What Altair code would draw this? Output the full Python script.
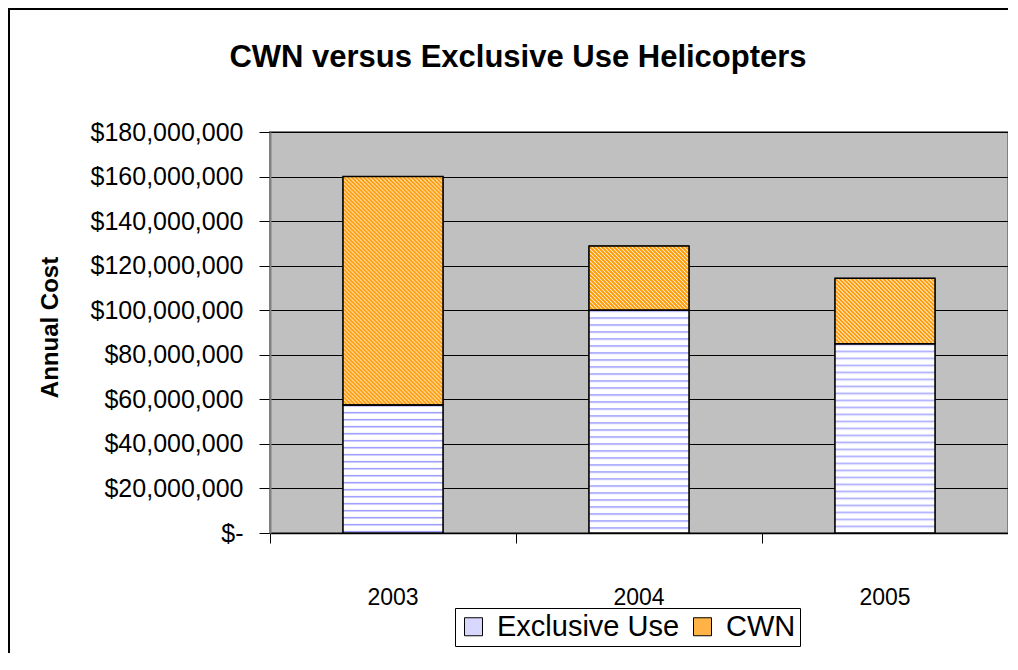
import base64
import altair as alt
import pandas as pd

# ---- data ----
years = ["2003", "2004", "2005"]
exclusive_use = [57_500_000, 100_000_000, 85_000_000]
cwn = [102_500_000, 28_800_000, 29_300_000]
series_names = ["Exclusive Use", "CWN"]
y_ticks = [0, 20_000_000, 40_000_000, 60_000_000, 80_000_000, 100_000_000,
           120_000_000, 140_000_000, 160_000_000, 180_000_000]

W, H = 738, 401
YMAX = 180_000_000
BAR_W = 100
FONT = "Liberation Sans"

rows = []
for i, yr in enumerate(years):
    rows.append({"year": yr, "series": series_names[0], "order": 0, "value": exclusive_use[i]})
    rows.append({"year": yr, "series": series_names[1], "order": 1, "value": cwn[i]})
df = pd.DataFrame(rows)


def px(v):
    return v / YMAX * H


def pattern_url(kind, w, h):
    if kind == "h":
        pat = ("<pattern id='p' width='8' height='7' patternUnits='userSpaceOnUse'>"
               "<rect width='8' height='7' fill='#ffffff'/>"
               "<rect y='0' width='8' height='1' fill='#9C9CFF'/>"
               "<rect y='1' width='8' height='1' fill='#C8C8FF'/>"
               "</pattern>")
    else:
        pat = ("<pattern id='p' width='4' height='4' patternUnits='userSpaceOnUse'>"
               "<rect width='4' height='4' fill='#ffffff'/>"
               "<path d='M-1,-1 L5,5 M-3,1 L1,5 M3,-1 L5,1' stroke='#FF9900' stroke-width='1.95'/>"
               "</pattern>")
    svg = (f"<svg xmlns='http://www.w3.org/2000/svg' width='{w}' height='{h:.2f}' "
           f"viewBox='0 0 {w} {h:.2f}' preserveAspectRatio='none'>"
           f"<defs>{pat}</defs><rect width='{w}' height='{h:.2f}' fill='url(#p)'/></svg>")
    return "data:image/svg+xml;base64," + base64.b64encode(svg.encode()).decode()


x_enc = alt.X(
    "year:N",
    sort=years,
    scale=alt.Scale(paddingInner=0, paddingOuter=0),
    axis=alt.Axis(
        title=None, labelAngle=0, bandPosition=0,
        tickSize=10, tickColor="black", tickWidth=1,
        domainColor="black", domainWidth=1.5,
        labelFontSize=23, labelFont=FONT, labelColor="black", labelPadding=43,
        grid=False,
    ),
)
y_enc = alt.Y(
    "v0:Q",
    scale=alt.Scale(domain=[0, YMAX], nice=False),
    axis=alt.Axis(
        values=y_ticks,
        labelExpr="datum.value == 0 ? '$-\u00a0' : '$' + format(datum.value, ',')",
        title="Annual Cost", titleFontSize=24, titleFont=FONT, titleFontWeight="bold",
        titleColor="black", titlePadding=28, titleY=195,
        labelFontSize=25, labelFont=FONT, labelColor="black", labelPadding=16,
        tickSize=11, tickColor="black", tickWidth=1,
        domainColor="#808080", domainWidth=2,
        grid=True, gridColor="black", gridWidth=1,
    ),
)

base = alt.Chart(df).transform_stack(
    stack="value", groupby=["year"], as_=["v0", "v1"],
    sort=[alt.SortField("order", order="ascending")],
)

legend_bars = base.mark_bar(size=BAR_W, stroke="black", strokeWidth=1).encode(
    x=x_enc, y=y_enc, y2="v1",
    color=alt.Color(
        "series:N",
        scale=alt.Scale(domain=series_names, range=["#D8D8FF", "#FFB347"]),
        legend=alt.Legend(
            title=None, orient="none", direction="horizontal",
            legendX=185, legendY=476,
            labelFontSize=29, labelFont=FONT, labelColor="black", labelOffset=9,
            labelLimit=500,
            symbolType="square", symbolSize=324,
            symbolStrokeColor="black", symbolStrokeWidth=1,
            columnPadding=8, padding=4,
            strokeColor="black", fillColor="white",
        ),
    ),
)

# patterned fills: one image per bar segment, placed through the same scales
pattern_layers = []
for i, yr in enumerate(years):
    for sname, vals, kind in ((series_names[0], exclusive_use, "h"), (series_names[1], cwn, "d")):
        hpx = px(vals[i])
        pattern_layers.append(
            base.transform_filter(
                (alt.datum.year == yr) & (alt.datum.series == sname)
            ).mark_image(
                width=BAR_W, height=hpx, align="center", baseline="bottom", aspect=False,
            ).encode(
                x=x_enc, y=y_enc, url=alt.value(pattern_url(kind, BAR_W, hpx)),
            )
        )

outline_bars = base.mark_bar(
    size=BAR_W, stroke="black", strokeWidth=1.5, fillOpacity=0
).encode(x=x_enc, y=y_enc, y2="v1")

# outer chart frame: only its left and top edges fall inside the window
one = pd.DataFrame({"a": [0]})
frame_left = alt.Chart(one).mark_rect(color="black").encode(
    x=alt.value(-262), x2=alt.value(-260), y=alt.value(-124), y2=alt.value(H + 120),
)
frame_top = alt.Chart(one).mark_rect(color="black").encode(
    x=alt.value(-262), x2=alt.value(W), y=alt.value(-124), y2=alt.value(-122),
)

chart = alt.layer(legend_bars, *pattern_layers, outline_bars, frame_left, frame_top).properties(
    width=W, height=H,
    title=alt.TitleParams(
        text="CWN versus Exclusive Use Helicopters",
        fontSize=31, fontWeight="bold", font=FONT, color="black",
        anchor="middle", dx=-121, offset=0, dy=90, baseline="alphabetic",
    ),
    autosize=alt.AutoSizeParams(type="none"),
    padding={"left": 262, "top": 124, "right": 0, "bottom": 122},
).configure(
    background="white",
    font=FONT,
).configure_view(
    fill="#C0C0C0", stroke="#808080", strokeWidth=2,
)

chart.save("out.html", embed_options={"renderer": "svg", "actions": False})
